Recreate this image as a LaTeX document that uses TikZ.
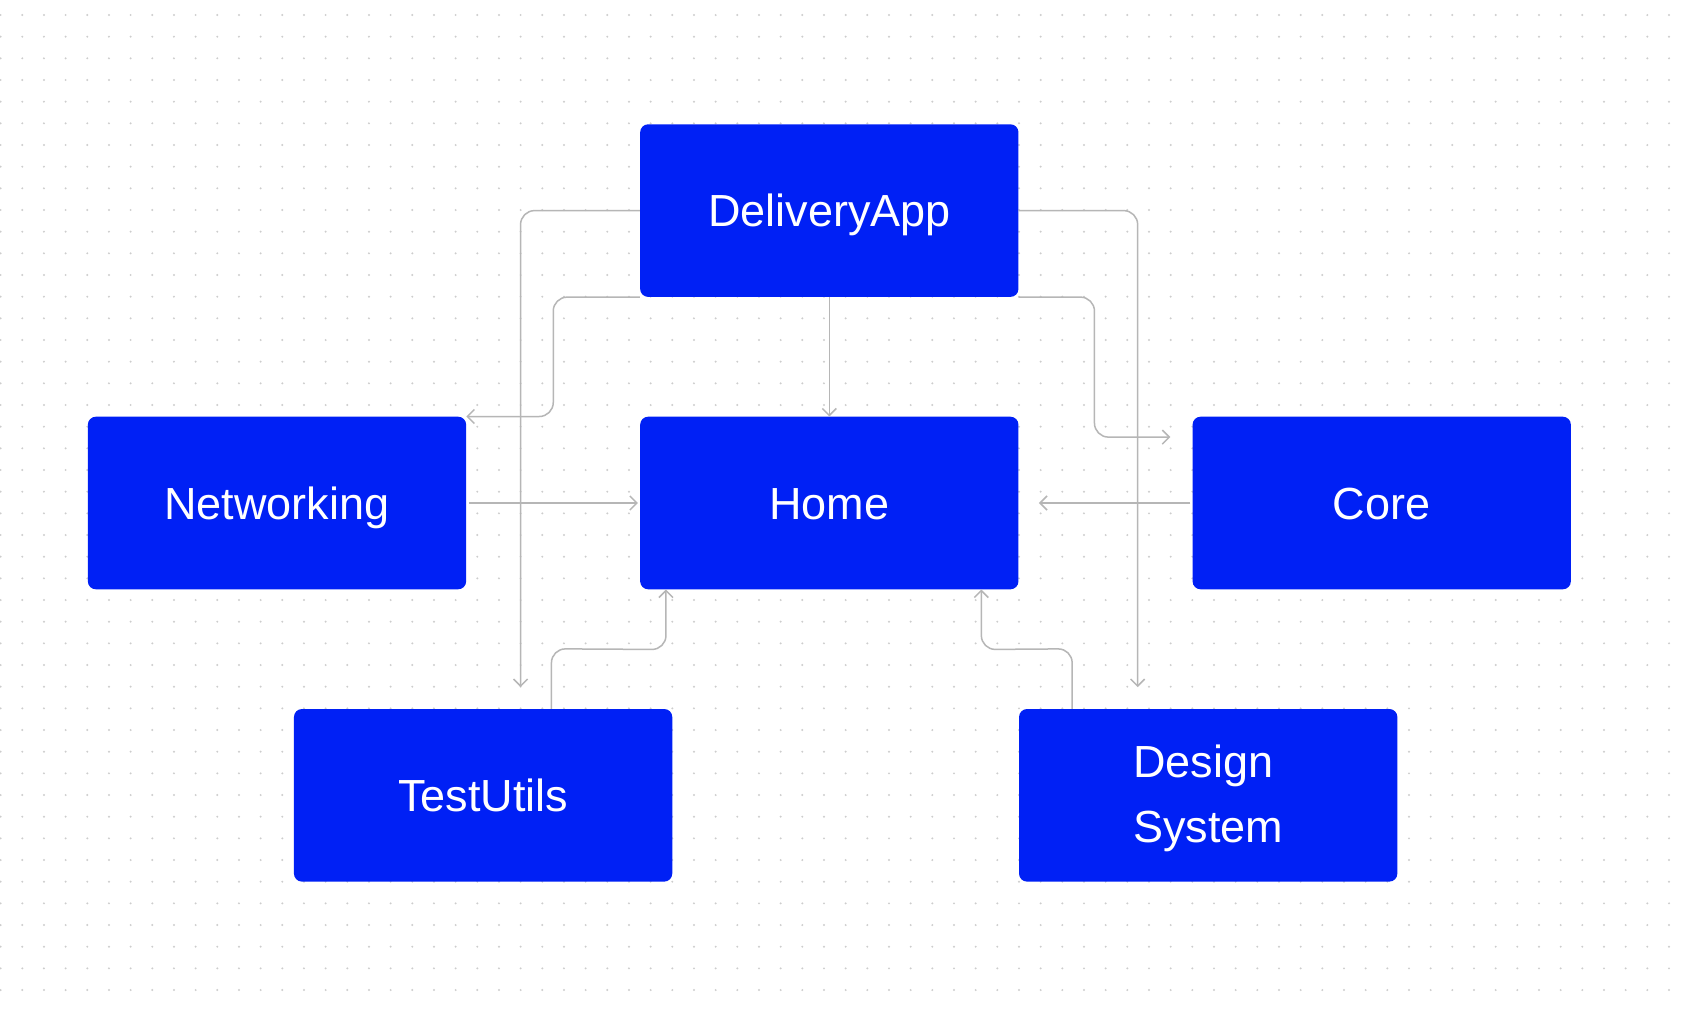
\documentclass[tikz,border=0pt]{standalone}
\usepackage{fontspec}
\newfontfamily\labfont{Liberation Sans}
\usetikzlibrary{arrows.meta,calc}
\definecolor{boxblue}{RGB}{0,32,245}
\definecolor{linegray}{RGB}{182,182,182}
\definecolor{dotgray}{RGB}{205,205,205}
\tikzset{
  modbox/.style={rectangle, rounded corners=8pt, fill=boxblue, draw=none,
    minimum width=378.3pt, minimum height=172.6pt, inner sep=0pt,
    text=white, font=\labfont\fontsize{45}{65}\selectfont},
  oneline/.style={text height=32.5pt, text depth=0pt},
  conn/.style={draw=linegray, line width=1.5pt, rounded corners=14pt,
    -{Straight Barb[length=7pt,width=14pt]}}
}
\begin{document}
\begin{tikzpicture}[x=1pt,y=-1pt]
\useasboundingbox (0,0) rectangle (1688,1010);
\fill[white] (0,0) rectangle (1688,1010);
\foreach \i in {0,...,77} {
  \foreach \j in {0,...,45} {
    \fill[dotgray] (0.63+21.667*\i, 15+21.667*\j) circle (1.1);
  }
}
\node[modbox, oneline] (da)   at (829.3, 210.6) {DeliveryApp};
\node[modbox, oneline] (nw)   at (277.0, 503.0) {Networking};
\node[modbox, oneline] (home) at (829.3, 503.0) {Home};
\node[modbox, oneline] (core) at (1381.7, 503.0) {Core};
\node[modbox, oneline] (tu)   at (483.1, 795.3) {TestUtils};
\node[modbox, align=left, text depth=3pt] (ds) at (1208.2, 795.3) {Design\\System};

\coordinate (tuin) at ($(tu.north west)+(226.8,-21.7)$);
\coordinate (dsin) at ($(ds.north west)+(118.8,-21.7)$);
\coordinate (corein) at ($(core.north west)+(-22,20.6)$);

% DeliveryApp -> TestUtils
\draw[conn] (da.west) -| (tuin);
% DeliveryApp -> DesignSystem
\draw[conn] (da.east) -| (dsin);
% DeliveryApp -> Networking
\draw[conn] (da.south west) -- ($(da.south west)+(-86.7,0)$) |- (nw.north east);
% DeliveryApp -> Home
\draw[conn] (da.south) -- (home.north);
% DeliveryApp -> Core
\draw[conn] (da.south east) -- ($(da.south east)+(75.8,0)$) |- (corein);
% Networking -> Home
\draw[conn] ($(nw.east)+(2.7,0)$) -- ($(home.west)+(-2,0)$);
% Core -> Home
\draw[conn] ($(core.west)+(-2,0)$) -- ($(home.east)+(20.3,0)$);
% TestUtils -> Home
\draw[conn] ($(tu.north west)+(257.7,0)$) -- ($(tu.north west)+(257.7,-60)$)
  -- ($(home.south west)+(26,60)$) -- ($(home.south west)+(26,0)$);
% DesignSystem -> Home
\draw[conn] ($(ds.north west)+(53.3,0)$) -- ($(ds.north west)+(53.3,-60)$)
  -- ($(home.south east)+(-37.3,60)$) -- ($(home.south east)+(-37.3,0)$);
\end{tikzpicture}
\end{document}
